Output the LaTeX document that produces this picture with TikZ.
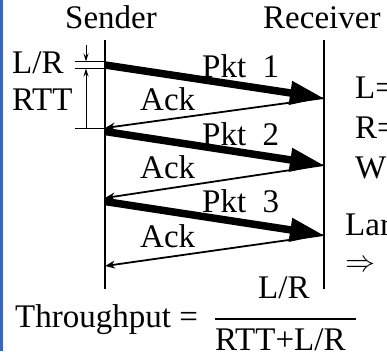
\documentclass[tikz,border=0pt]{standalone}
\usepackage{fontspec}
\usepackage{graphicx}
\setmainfont{Liberation Serif}
\usetikzlibrary{arrows.meta}
\definecolor{slideblue}{RGB}{60, 100, 190}

\begin{document}
\begin{tikzpicture}[x=1pt, y=-1pt,
        lbl/.style={inner sep=0pt, anchor=base west, font=\fontsize{33}{40}\selectfont},
        pkt/.style={line width=7.5pt, -{Triangle[length=34pt, width=22pt]}},
        ack/.style={line width=1.8pt, -{Stealth[length=10pt, width=8pt]}},
        dim/.style={line width=1pt, -{Stealth[length=8pt, width=5pt]}}]
            \useasboundingbox (0,0) rectangle (387,351);
            \clip (0,0) rectangle (387,351);
            % Slide edge
            \draw[slideblue, line width=2.5pt]                                (1.5,0) -- (1.5,351);
            % Time lines
            \node[lbl] (sender)   at ( 65, 28) {Sender};
            \node[lbl] (receiver) at (263, 28) {Receiver};
            \coordinate (s0) at (105, 40);  \coordinate (s1) at (105,289);
            \coordinate (r0) at (324, 40);  \coordinate (r1) at (324,289);
            \draw[line width=2.2pt]                                           (s0) -- (s1);
            \draw[line width=2.2pt]                                           (r0) -- (r1);
            % Packets and acks
            \coordinate (p1) at (105, 65.0);  \coordinate (t1) at (324, 98);  \coordinate (a1) at (105,128);
            \coordinate (p2) at (105,131.5);  \coordinate (t2) at (324,165);  \coordinate (a2) at (105,198);
            \coordinate (p3) at (105,201.5);  \coordinate (t3) at (324,235);  \coordinate (a3) at (105,266);
            \draw[pkt] (p1) -- (t1);  \draw[ack] (t1) -- (a1);
            \draw[pkt] (p2) -- (t2);  \draw[ack] (t2) -- (a2);
            \draw[pkt] (p3) -- (t3);  \draw[ack] (t3) -- (a3);
            \node[lbl] (pkt1) at (202, 77) {Pkt~~1};
            \node[lbl] (ack1) at (140,110) {Ack};
            \node[lbl] (pkt2) at (202,145) {Pkt~~2};
            \node[lbl] (ack2) at (140,178) {Ack};
            \node[lbl] (pkt3) at (202,212) {Pkt~~3};
            \node[lbl] (ack3) at (140,247) {Ack};
            % Transmission time & round trip
            \coordinate (d0) at (86, 45);
            \coordinate (d1) at (86, 61.5);  \coordinate (e1) at (75, 61.5);
            \coordinate (d2) at (86, 68.5);  \coordinate (e2) at (75, 68.5);
            \coordinate (d3) at (86,128);    \coordinate (e3) at (75,128);
            \draw[line width=1pt] (e1) -- (e1 -| s0);
            \draw[line width=1pt] (e2) -- (e2 -| s0);
            \draw[line width=1pt] (e3) -- (e3 -| s0);
            \draw[dim]  (d0) -- (d1);
            \draw[dim, {Stealth[length=8pt, width=5pt]}-] (d2) -- (d3);
            \node[lbl] (tx)  at (12, 73) {L/R};
            \node[lbl] (rtt) at (12,110) {RTT};
            % Side notes
            \node[lbl] (lnote) at (355, 98) {L=};
            \node[lbl] (rnote) at (355,138) {R=};
            \node[lbl] (wnote) at (355,178) {W};
            \node[lbl] (large) at (345,235) {Lar};
            \node[inner sep=0pt, anchor=west] (impl) at (345,266) {\resizebox{30pt}{!}{$\Rightarrow$}};
            % Throughput
            \node[lbl] (thr)   at ( 15,327) {Throughput =};
            \node[lbl] (num)   at (258,298) {L/R};
            \node[lbl] (den)   at (215,350) {RTT+L/R};
            \coordinate (b0) at (215,319);  \coordinate (b1) at (356,319);
            \draw[line width=2pt] (b0) -- (b1);
        \end{tikzpicture}
\end{document}
